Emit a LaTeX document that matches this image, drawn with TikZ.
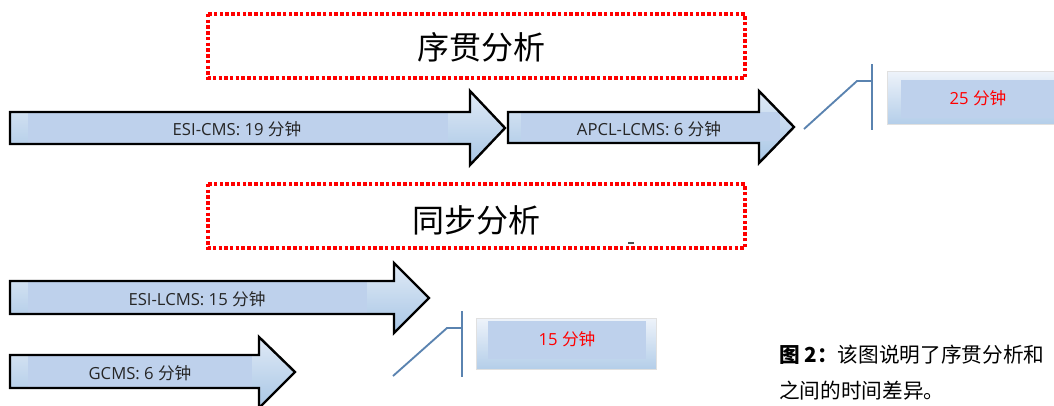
\documentclass[tikz,border=0pt]{standalone}
\usepackage{fontspec}
\setmainfont{Noto Sans CJK SC}
\newfontfamily\lat{Open Sans}
\definecolor{flatblue}{HTML}{BED1EC}
\definecolor{gtop}{HTML}{E0EAF6}
\definecolor{gbot}{HTML}{A8C6E5}
\definecolor{boxtop}{HTML}{EEF3FA}
\definecolor{boxbot}{HTML}{B4CEE9}
\definecolor{calloutblue}{HTML}{5A83B0}
\definecolor{dotred}{HTML}{FF0000}
\tikzset{
  arrowline/.style={draw=black, line width=1.8pt, line join=miter},
  arrowshade/.style={top color=gtop, bottom color=gbot},
  flatfill/.style={fill=flatblue},
  arrlabel/.style={font=\lat\fontsize{12.5}{15}\selectfont, text=black!85, inner sep=0pt},
  redlabel/.style={font=\lat\fontsize{12.5}{15}\selectfont, text=red, inner sep=0pt},
  titlebox/.style={draw=dotred, line width=2.6pt, dash pattern=on 2.6pt off 1.7pt},
  titletext/.style={font=\fontsize{24}{28}\selectfont, inner sep=0pt},
  calloutline/.style={draw=calloutblue, line width=1.4pt},
  timebox/.style={top color=boxtop, bottom color=boxbot, draw=black!12, line width=0.6pt},
  captext/.style={font=\fontsize{15.5}{19}\selectfont, anchor=west, inner sep=0pt},
}
\newcommand\drawbigarrow[2]{%
  \path[arrowshade] #1;
  \begin{scope}\clip #1; \fill[flatfill] #2; \end{scope}
  \draw[arrowline] #1;}
\begin{document}
\begin{tikzpicture}[x=0.75pt, y=-0.75pt]
\clip (0,0) rectangle (1054,405);
\fill[white] (0,0) rectangle (1054,405);

% dotted title boxes
\draw[titlebox] (208,14) rectangle (745,78);
\node[titletext] (seq) at (481,47) {序贯分析};
\draw[titlebox] (208,184) rectangle (745,248);
\node[titletext] (syn) at (476,220) {同步分析};
\draw[line width=0.8pt, black!70] (628,243) -- (634,243);

% sequential arrows
\drawbigarrow{(10,112) -- (470,112) -- (470,91) -- (505,128) -- (470,165) -- (470,144) -- (10,144) -- cycle}{(28,112) rectangle (448,144)}
\node[arrlabel] (esicms) at (237,129) {ESI-CMS: 19 {\rmfamily 分钟}};

\drawbigarrow{(508,112) -- (759,112) -- (759,91) -- (794,127) -- (759,163) -- (759,143) -- (508,143) -- cycle}{(521,112) rectangle (780,141)}
\node[arrlabel] (apcl) at (649,129) {APCL-LCMS: 6 {\rmfamily 分钟}};

% total box 25
\path[timebox] (887,71) rectangle (1054,124);
\fill[flatblue] (901,80) rectangle (1054,118);
\node[redlabel] (t25) at (978,98) {25 {\rmfamily 分钟}};
\coordinate (c1a) at (804,129);
\coordinate (c1b) at (857,81);
\coordinate (c1c) at (872,81);
\coordinate (c1t) at (872,64);
\coordinate (c1d) at (872,130);
\draw[calloutline] (c1a) -- (c1b) -- (c1c);
\draw[calloutline] (c1t) -- (c1d);

% simultaneous arrows
\drawbigarrow{(10,281) -- (394,281) -- (394,263) -- (429,298) -- (394,333) -- (394,314) -- (10,314) -- cycle}{(28,281) rectangle (367,314)}
\node[arrlabel] (esilcms) at (197,299) {ESI-LCMS: 15 {\rmfamily 分钟}};

\drawbigarrow{(10,355) -- (259,355) -- (259,337) -- (295,372) -- (259,408) -- (259,388) -- (10,388) -- cycle}{(28,355) rectangle (252,388)}
\node[arrlabel] (gcms) at (140,373) {GCMS: 6 {\rmfamily 分钟}};

% total box 15
\path[timebox] (476,318) rectangle (656,369);
\fill[flatblue] (488,321) rectangle (646,359);
\node[redlabel] (t15) at (567,339) {15 {\rmfamily 分钟}};
\coordinate (c2a) at (393,376);
\coordinate (c2b) at (447,328);
\coordinate (c2c) at (462,328);
\coordinate (c2t) at (462,311);
\coordinate (c2d) at (462,377);
\draw[calloutline] (c2a) -- (c2b) -- (c2c);
\draw[calloutline] (c2t) -- (c2d);

% caption
\node[captext] (cap1) at (779,355) {\textbf{图 2：}该图说明了序贯分析和};
\node[captext] (cap2) at (779,391) {之间的时间差异。};
\end{tikzpicture}
\end{document}
